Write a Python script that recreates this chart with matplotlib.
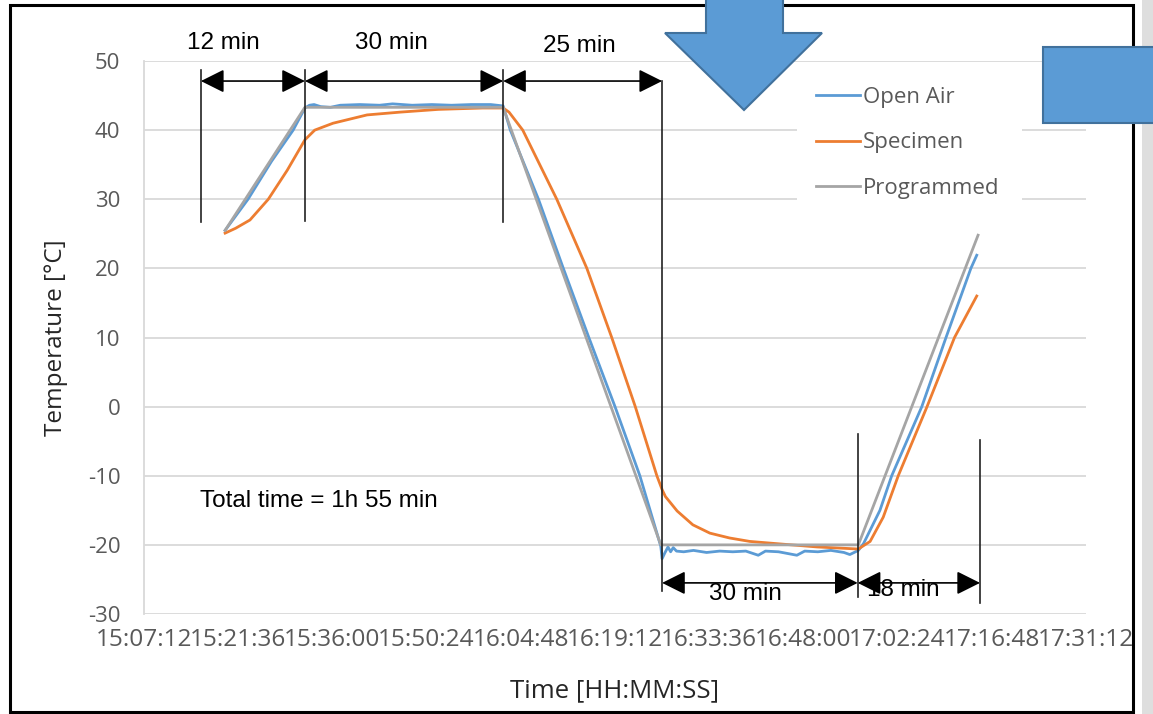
import matplotlib
matplotlib.use("Agg")
import matplotlib.pyplot as plt
from matplotlib.patches import Polygon, Rectangle

plt.rcParams['axes.unicode_minus'] = False

# time axis in minutes after 15:07:12
time_labels = ['15:07:12', '15:21:36', '15:36:00', '15:50:24', '16:04:48', '16:19:12',
               '16:33:36', '16:48:00', '17:02:24', '17:16:48', '17:31:12']
tick_minutes = [0, 14.4, 28.8, 43.2, 57.6, 72.0, 86.4, 100.8, 115.2, 129.6, 144.0]

# programmed chamber profile
prog_t = [12.4, 24.6, 54.9, 79.0, 109.2, 127.5]
prog_T = [25.5, 43.3, 43.3, -20.0, -20.0, 24.8]

# open air (measured in chamber)
air_t = [12.4, 15.9, 19.5, 22.8, 24.6, 25.3, 26.0, 27.0, 28.5, 30.0, 33.0, 36.0, 38.0,
         41.0, 44.0, 47.0, 50.0, 53.0, 54.9, 56.0, 60.3, 64.1, 68.0, 72.0, 75.8, 79.0,
         79.2, 79.6, 80.1, 80.5, 80.9, 81.4, 82.5, 84.0, 86.0, 88.0, 90.0, 92.0, 93.9,
         95.0, 97.0, 99.8, 101.0, 103.0, 105.0, 107.0, 107.9, 109.2, 110.0, 112.5, 114.3,
         118.9, 122.6, 126.4, 127.3]
air_T = [25.5, 30.0, 35.5, 40.0, 43.2, 43.6, 43.7, 43.4, 43.3, 43.6, 43.7, 43.6, 43.8,
         43.6, 43.7, 43.6, 43.7, 43.7, 43.5, 40.0, 30.0, 20.0, 10.0, 0.0, -10.0, -20.2,
         -22.0, -21.2, -20.3, -21.0, -20.4, -20.9, -21.0, -20.8, -21.1, -20.9, -21.0, -20.9, -21.5,
         -20.9, -21.0, -21.5, -20.9, -21.0, -20.8, -21.1, -21.4, -20.8, -19.8, -15.0, -10.0,
         0.0, 10.0, 20.0, 21.9]

# specimen temperature
spec_t = [12.4, 14.0, 16.2, 19.0, 21.9, 24.6, 26.1, 28.9, 34.1, 39.1, 45.0, 51.8, 54.9,
          55.8, 57.9, 63.1, 67.7, 71.5, 75.1, 78.4, 79.2, 79.7, 81.5, 83.9, 86.5, 89.5,
          92.6, 97.7, 102.9, 109.2, 111.0, 113.0, 115.3, 119.7, 123.9, 127.3]
spec_T = [25.1, 25.8, 27.0, 30.0, 34.2, 38.6, 40.0, 41.0, 42.2, 42.6, 43.0, 43.2, 43.2,
          42.6, 40.0, 30.0, 20.0, 10.0, 0.0, -10.0, -12.0, -13.0, -15.1, -17.1, -18.3, -19.0,
          -19.5, -19.9, -20.3, -20.6, -19.5, -16.0, -10.0, 0.0, 10.0, 16.0]

# phase annotations
phase_x = [8.7, 24.6, 54.9, 79.2, 109.1, 127.8]
top_labels = ['12 min', '30 min', '25 min']
bottom_labels = ['30 min', '18 min']

W, H = 1153, 714
fig = plt.figure(figsize=(W / 100, H / 100), dpi=100)


def px(x, y):
    return x / W, 1 - y / H


# gray strip on the right and the outer frame
fig.add_artist(Rectangle(px(1142, 714), 11 / W, 1, transform=fig.transFigure,
                         facecolor='#dedede', edgecolor='none', zorder=-1))
fig.add_artist(Rectangle(px(10, 712), 1123 / W, 707 / H, transform=fig.transFigure,
                         facecolor='none', edgecolor='black', linewidth=2.2, zorder=5))

ax = fig.add_axes([144 / W, 1 - 614 / H, 942 / W, 553 / H])

grid_c = '#d9d9d9'
ax.plot(air_t, air_T, color='#5b9bd5', lw=2.0, label='Open Air')
ax.plot(spec_t, spec_T, color='#ed7d31', lw=2.0, label='Specimen')
ax.plot(prog_t, prog_T, color='#a5a5a5', lw=2.0, label='Programmed')

ax.set_xlim(0, 144)
ax.set_ylim(-30, 50)
ax.set_yticks(range(-30, 51, 10))
ax.set_xticks(tick_minutes)
ax.set_xticklabels(time_labels)
ax.grid(axis='y', color=grid_c, lw=1.3)
ax.set_axisbelow(True)
for s in ['top', 'right', 'bottom']:
    ax.spines[s].set_visible(False)
ax.spines['left'].set_color(grid_c)
ax.spines['left'].set_linewidth(1.3)
ax.tick_params(length=0, labelcolor='#595959')
ax.tick_params(axis='y', labelsize=16, pad=17)
ax.tick_params(axis='x', labelsize=17.6, pad=10)
for lab in ax.get_xticklabels() + ax.get_yticklabels():
    lab.set_family('Open Sans')

ax.set_ylabel('Temperature [°C]', fontsize=17.5, family='Open Sans', color='#262626', labelpad=14)
ax.set_xlabel('Time [HH:MM:SS]', fontsize=18.5, family='Open Sans', color='#262626', labelpad=19)

# dimension lines
vl = dict(color='#222222', lw=1.2, clip_on=False)
ax.plot([phase_x[0], phase_x[0]], [26.7, 48.7], **vl)
ax.plot([phase_x[1], phase_x[1]], [26.8, 48.7], **vl)
ax.plot([phase_x[2], phase_x[2]], [26.7, 48.7], **vl)
ax.plot([phase_x[3], phase_x[3]], [-26.7, 47.1], **vl)
ax.plot([phase_x[4], phase_x[4]], [-27.5, -3.9], **vl)
ax.plot([phase_x[5], phase_x[5]], [-28.4, -4.9], **vl)

arr = dict(arrowstyle='<|-|>,head_length=0.9,head_width=0.45', color='black', lw=1.2,
           shrinkA=0, shrinkB=0, mutation_scale=16)
for a, b in [(0, 1), (1, 2), (2, 3)]:
    ax.annotate('', xy=(phase_x[b], 47.1), xytext=(phase_x[a], 47.1), arrowprops=arr)
for a, b in [(3, 4), (4, 5)]:
    ax.annotate('', xy=(phase_x[b], -25.5), xytext=(phase_x[a], -25.5), arrowprops=arr)

tf = dict(fontsize=17.5, family='Liberation Sans', color='black', va='center', ha='center')
ax.text(12.2, 52.6, top_labels[0], **tf)
ax.text(37.8, 52.6, top_labels[1], **tf)
ax.text(66.5, 52.2, top_labels[2], **tf)
ax.text(92.0, -27.1, bottom_labels[0], **tf)
ax.text(116.0, -26.6, bottom_labels[1], **tf)
ax.text(8.6, -13.6, 'Total time = 1h 55 min', fontsize=17.5, family='Liberation Sans',
        va='center', ha='left')

# white legend area interrupting the gridlines
ax.add_patch(Rectangle(px(797, 215), 225 / W, 145 / H, transform=fig.transFigure,
                       facecolor='white', edgecolor='none', zorder=1.5))
leg = ax.legend(loc='upper left', bbox_to_anchor=px(807, 78), bbox_transform=fig.transFigure,
                frameon=False, borderaxespad=0, borderpad=0.4, handlelength=2.0,
                handletextpad=0.1, labelspacing=1.1, prop={'family': 'Open Sans', 'size': 16})
for t in leg.get_texts():
    t.set_color('#595959')

# blue block arrow and box drawn over the chart
arrow_px = [(706, -5), (783, -5), (783, 33), (822, 33), (744, 110), (665, 33), (706, 33)]
fig.add_artist(Polygon([px(x, y) for x, y in arrow_px], closed=True, transform=fig.transFigure,
                       facecolor='#5b9bd5', edgecolor='#41719c', lw=1.5, zorder=10))
fig.add_artist(Rectangle(px(1043, 123), 120 / W, 76 / H, transform=fig.transFigure,
                         facecolor='#5b9bd5', edgecolor='#41719c', lw=1.5, zorder=20))

fig.savefig('out.png', dpi=100)
